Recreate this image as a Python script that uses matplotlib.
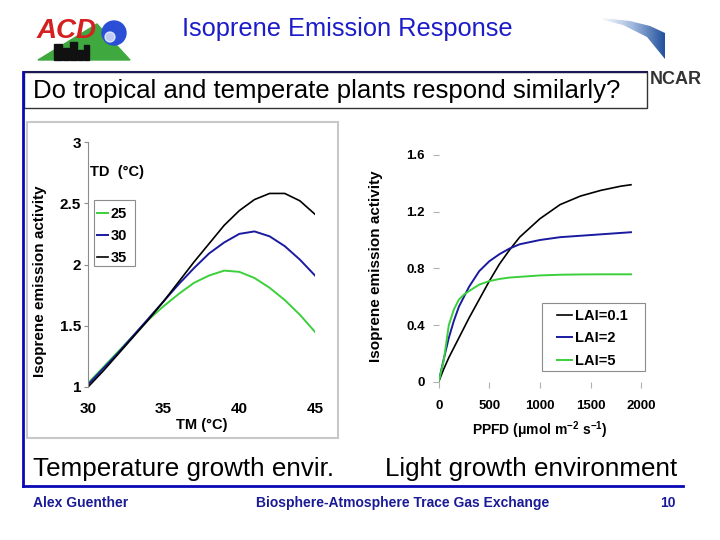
import numpy as np
import matplotlib
matplotlib.use('Agg')
import matplotlib.pyplot as plt
from matplotlib.patches import Rectangle, Polygon, Circle

plt.rcParams['font.family'] = ['Liberation Sans', 'DejaVu Sans']
plt.rcParams['mathtext.default'] = 'regular'

# ── data: temperature response (left) ─────────────────────
tm = [30, 31, 32, 33, 34, 35, 36, 37, 38, 39, 40, 41, 42, 43, 44, 45]
td_labels = ['25', '30', '35']
act_td25 = [1.03, 1.16, 1.29, 1.42, 1.55, 1.66, 1.76, 1.85, 1.91, 1.95, 1.94, 1.89, 1.81, 1.71, 1.59, 1.45]
act_td30 = [1.02, 1.15, 1.28, 1.42, 1.56, 1.70, 1.84, 1.97, 2.09, 2.18, 2.25, 2.27, 2.23, 2.15, 2.04, 1.91]
act_td35 = [1.00, 1.13, 1.27, 1.41, 1.55, 1.70, 1.86, 2.02, 2.17, 2.32, 2.44, 2.53, 2.58, 2.58, 2.52, 2.41]

# ── data: light response (right) ──────────────────────────
ppfd = [0, 50, 100, 150, 200, 250, 300, 400, 500, 600, 700, 800, 1000, 1200, 1400, 1600, 1800, 1900]
lai_labels = ['LAI=0.1', 'LAI=2', 'LAI=5']
act_lai01 = [0, 0.09, 0.17, 0.24, 0.31, 0.38, 0.45, 0.58, 0.71, 0.83, 0.93, 1.02, 1.15, 1.25, 1.31, 1.35, 1.38, 1.39]
act_lai2 = [0, 0.16, 0.31, 0.43, 0.53, 0.60, 0.67, 0.78, 0.85, 0.90, 0.94, 0.97, 1.00, 1.02, 1.03, 1.04, 1.05, 1.055]
act_lai5 = [0, 0.15, 0.40, 0.51, 0.58, 0.615, 0.64, 0.685, 0.71, 0.725, 0.735, 0.74, 0.75, 0.755, 0.757, 0.758, 0.758, 0.758]

GREEN = '#3ccf3c'
BLUE = '#1a1aa0'
BLACK = '#000000'
NAVY = '#1a1a96'

W, H = 720, 540
fig = plt.figure(figsize=(7.2, 5.4), dpi=100)

# ── slide overlay in pixel coordinates ────────────────────
bg = fig.add_axes([0, 0, 1, 1], zorder=0)
bg.set_xlim(0, W); bg.set_ylim(H, 0); bg.axis('off')

# ACD logo (rough)
bg.add_patch(Polygon([(38, 60), (97, 24), (130, 60)], closed=True, color='#3fa83f', zorder=1))
for x0, w, h in [(54, 8, 16), (63, 6, 12), (70, 7, 18), (78, 5, 10), (84, 5, 15)]:
    bg.add_patch(Rectangle((x0, 60 - h), w, h, color='#111111', zorder=2))
bg.text(67, 31, 'ACD', color='#d42020', fontsize=20, fontweight='bold', style='italic',
        ha='center', va='center', zorder=3)
bg.add_patch(Circle((114, 33), 12, color='#2a4fd6', zorder=2))
bg.add_patch(Circle((110, 37), 5, color='white', zorder=3, alpha=0.7))

# NCAR swoosh (rough)
top = [(602, 18), (630, 21), (650, 26), (665, 33)]
bot = [(665, 59), (647, 37), (623, 25), (603, 20)]
swoosh = Polygon(top + bot, closed=True, facecolor='none', edgecolor='none')
bg.add_patch(swoosh)
grad = np.linspace(0, 1, 100).reshape(1, -1)
im = bg.imshow(grad, extent=(600, 666, 60, 16), cmap=matplotlib.colors.LinearSegmentedColormap.from_list(
    'sw', ['#ffffff', '#9fb8dc', '#1f4e9c']), aspect='auto', zorder=2)
im.set_clip_path(swoosh)
bg.text(650, 80, 'NCAR', color='#333333', fontsize=13, fontweight='bold', ha='left', va='center')

# title
bg.text(347, 29, 'Isoprene Emission Response', color='#1c1cc8', fontsize=18.3,
        ha='center', va='center')

# question box
bg.add_patch(Rectangle((24, 72), 623, 36, facecolor='white', edgecolor='#333333', lw=1, zorder=2))
bg.plot([24, 647], [72, 72], color='#1a1a50', lw=1.5, zorder=3)
bg.text(33, 91, 'Do tropical and temperate plants respond similarly?', fontsize=18.5,
        ha='left', va='center', zorder=4)

# blue slide frame
bg.plot([23, 23], [72, 486], color='#0a0ab4', lw=2, zorder=3)
bg.plot([23, 683], [486, 486], color='#0a0ab4', lw=2, zorder=3)

# gray frame round the left chart
bg.add_patch(Rectangle((27, 122), 311, 316, facecolor='none', edgecolor='#c8c8c8', lw=1.5))

# legend frames
bg.add_patch(Rectangle((94, 200), 41, 66, facecolor='white', edgecolor='#8c8c8c', lw=0.8))
bg.add_patch(Rectangle((542, 303), 103, 68, facecolor='white', edgecolor='#8c8c8c', lw=0.8))

# captions and footer
bg.text(33, 469, 'Temperature growth envir.', fontsize=18.7, ha='left', va='center')
bg.text(385, 469, 'Light growth environment', fontsize=18.7, ha='left', va='center')
bg.text(33, 503, 'Alex Guenther', fontsize=10, fontweight='bold', color=NAVY, ha='left', va='center')
bg.text(403, 503, 'Biosphere-Atmosphere Trace Gas Exchange', fontsize=10, fontweight='bold',
        color=NAVY, ha='center', va='center')
bg.text(668, 503, '10', fontsize=10, fontweight='bold', color=NAVY, ha='center', va='center')

# ── left chart: temperature ───────────────────────────────
ax1 = fig.add_axes([88 / W, 1 - 387 / H, 227 / W, 245 / H], zorder=5)
ax1.patch.set_alpha(0)
ax1.plot(tm, act_td25, color=GREEN, lw=1.4, label=td_labels[0])
ax1.plot(tm, act_td30, color=BLUE, lw=1.4, label=td_labels[1])
ax1.plot(tm, act_td35, color=BLACK, lw=1.2, label=td_labels[2])
ax1.set_xlim(30, 45)
ax1.set_ylim(1, 3)
ax1.set_xticks([30, 35, 40, 45])
ax1.set_yticks([1, 1.5, 2, 2.5, 3])
ax1.set_yticklabels(['1', '1.5', '2', '2.5', '3'])
for s in ['top', 'right', 'bottom']:
    ax1.spines[s].set_visible(False)
ax1.spines['left'].set_color('#8c8c8c')
ax1.tick_params(axis='x', length=0, pad=11, labelsize=11)
ax1.tick_params(axis='y', length=3, color='#8c8c8c', pad=2, labelsize=11)
for lab in ax1.get_xticklabels() + ax1.get_yticklabels():
    lab.set_fontweight('bold')
ax1.set_xlabel('TM (°C)', fontsize=10.5, fontweight='bold', va='center')
ax1.xaxis.set_label_coords((202 - 88) / 227, (387 - 425) / 245)
ax1.set_ylabel('Isoprene emission activity', fontsize=11, fontweight='bold', va='center')
ax1.yaxis.set_label_coords((40 - 88) / 227, (387 - 281) / 245)
fig.text(90 / W, 1 - 172 / H, 'TD  (°C)', fontsize=10.5, fontweight='bold', ha='left', va='center')
leg1 = ax1.legend(loc='upper left', bbox_to_anchor=(97 / W, 1 - 207 / H), bbox_transform=fig.transFigure,
                  frameon=False, handlelength=0.75, handletextpad=0.2, borderaxespad=0,
                  labelspacing=0.55, borderpad=0, prop={'weight': 'bold', 'size': 10.5})

# ── right chart: light ────────────────────────────────────
ax2 = fig.add_axes([438.7 / W, 1 - 381.7 / H, 202.4 / W, 226.7 / H], zorder=5)
ax2.patch.set_alpha(0)
ax2.plot(ppfd, act_lai01, color=BLACK, lw=1.2, label=lai_labels[0])
ax2.plot(ppfd, act_lai2, color=BLUE, lw=1.4, label=lai_labels[1])
ax2.plot(ppfd, act_lai5, color=GREEN, lw=1.4, label=lai_labels[2])
ax2.set_xlim(0, 2000)
ax2.set_ylim(0, 1.6)
ax2.set_xticks([0, 500, 1000, 1500, 2000])
ax2.set_yticks([0, 0.4, 0.8, 1.2, 1.6])
ax2.set_yticklabels(['0', '0.4', '0.8', '1.2', '1.6'])
for s in ax2.spines.values():
    s.set_visible(False)
ax2.tick_params(axis='x', length=4, color='#b0b0b0', pad=9.5, labelsize=9.5)
ax2.tick_params(axis='y', length=4, color='#b0b0b0', pad=6, labelsize=9.5)
for lab in ax2.get_xticklabels() + ax2.get_yticklabels():
    lab.set_fontweight('bold')
ax2.set_xlabel('PPFD (μmol m$^{-2}$ s$^{-1}$)', fontsize=10, fontweight='bold', va='center')
ax2.xaxis.set_label_coords((540 - 438.7) / 202.4, (381.7 - 430) / 226.7)
ax2.set_ylabel('Isoprene emission activity', fontsize=11, fontweight='bold', va='center')
ax2.yaxis.set_label_coords((376 - 438.7) / 202.4, (381.7 - 266) / 226.7)
leg2 = ax2.legend(loc='upper left', bbox_to_anchor=(557 / W, 1 - 309 / H), bbox_transform=fig.transFigure,
                  frameon=False, handlelength=1.05, handletextpad=0.2, borderaxespad=0,
                  labelspacing=0.58, borderpad=0, prop={'weight': 'bold', 'size': 10.5})

plt.savefig('out.png', dpi=100)
plt.close()
